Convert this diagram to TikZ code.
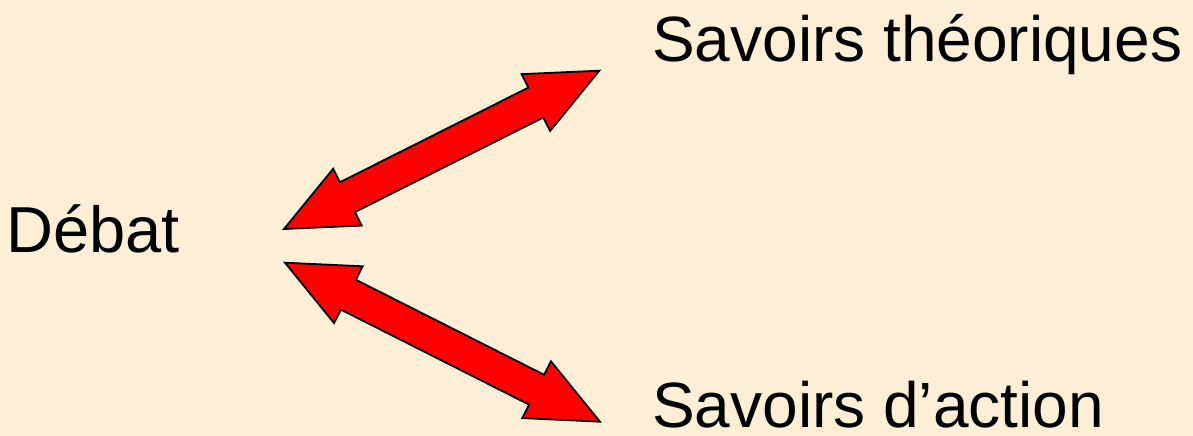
\documentclass[tikz,border=0pt]{standalone}
\usepackage{fontspec}
\setmainfont{Liberation Sans}
\usetikzlibrary{calc}
\definecolor{bgbeige}{RGB}{252,239,214}
\definecolor{arrred}{RGB}{255,0,0}
\tikzset{
  label text/.style={anchor=base west, inner sep=0pt, font=\fontsize{64}{72}\selectfont, text=black},
  bigarrow/.style={fill=arrred, draw=black, line width=1.8pt, line join=miter}
}
\newcommand\mydblarrow[2]{%
  \draw[bigarrow] (#1)
    -- ($(#1)!71pt!(#2)!31.8pt!90:(#2)$)
    -- ($(#1)!71pt!(#2)!16.7pt!90:(#2)$)
    -- ($(#2)!71pt!(#1)!16.7pt!-90:(#1)$)
    -- ($(#2)!71pt!(#1)!31.8pt!-90:(#1)$)
    -- (#2)
    -- ($(#2)!71pt!(#1)!31.8pt!90:(#1)$)
    -- ($(#2)!71pt!(#1)!16.7pt!90:(#1)$)
    -- ($(#1)!71pt!(#2)!16.7pt!-90:(#2)$)
    -- ($(#1)!71pt!(#2)!31.8pt!-90:(#2)$)
    -- cycle;}
\begin{document}
\begin{tikzpicture}[x=1pt,y=-1pt]
  \fill[bgbeige] (0,0) rectangle (1193,436);
  \useasboundingbox (0,0) rectangle (1193,436);
  \node[label text, font=\fontsize{65}{72}\selectfont] (debat) at (6,252.7) {Débat};
  \node[label text] (theo) at (652,61) {Savoirs théoriques};
  \node[label text] (action) at (652,427) {Savoirs d’action};
  \coordinate (a1) at (284,229);
  \coordinate (b1) at (599.3,70.7);
  \coordinate (a2) at (285,262.7);
  \coordinate (b2) at (600,421.7);
  \mydblarrow{a1}{b1}
  \mydblarrow{a2}{b2}
\end{tikzpicture}
\end{document}
